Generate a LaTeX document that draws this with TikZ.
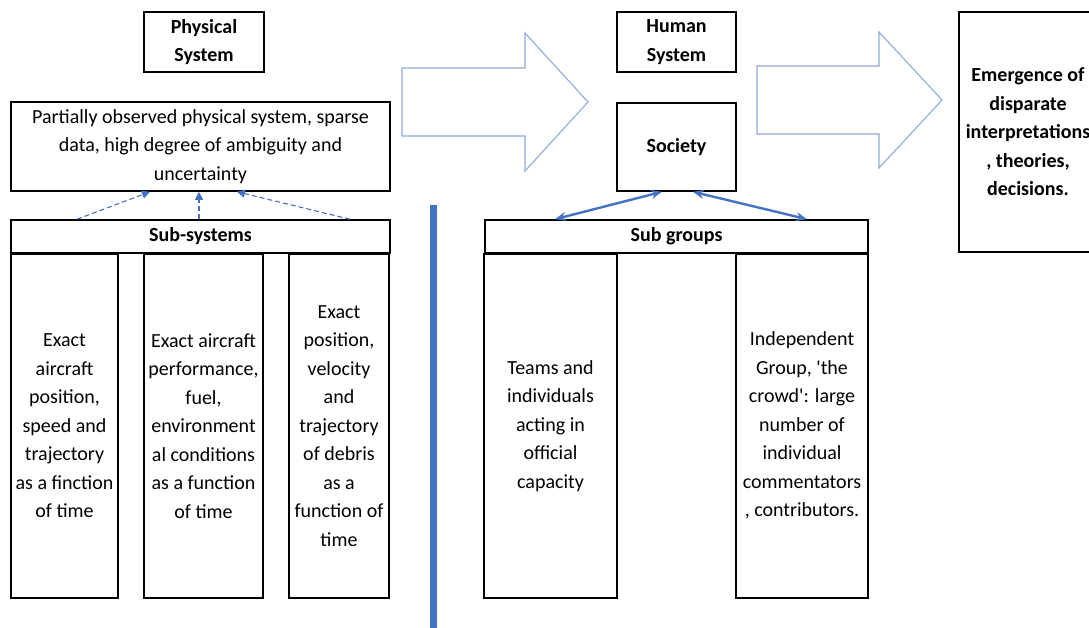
\documentclass[tikz,border=0pt]{standalone}
\usepackage{fontspec}
\setmainfont{Carlito}
\usetikzlibrary{arrows.meta}
\definecolor{linkblue}{HTML}{4472C4}
\definecolor{hollowblue}{HTML}{8FAADC}
\newcommand{\colheight}{344pt}
\newcommand{\barheight}{33pt}
\newcommand{\bodyfont}{\fontsize{20}{28.5}\selectfont}

\begin{document}
\begin{tikzpicture}[x=1pt, y=-1pt,
	box/.style={draw, line width=1.6pt, align=center, inner sep=2pt, font=\bodyfont},
	title/.style={box, font=\bodyfont\bfseries},
	dashlink/.style={linkblue, dash pattern=on 5pt off 3pt, line width=1.1pt, -{Triangle[length=8pt,width=8pt]}},
	duallink/.style={linkblue, line width=2.4pt, {Stealth[length=11pt,width=9pt]}-{Stealth[length=11pt,width=9pt]}},
	bigarrow/.style={hollowblue, line width=1.1pt, line join=miter}]
				\path[use as bounding box, clip] (0,0) rectangle (1089,627);
				% Physical side
				\node[title, minimum width=120pt, minimum height=60pt] (phys) at (204,42) {Physical\\System};
				\node[box, minimum width=379pt, minimum height=89pt] (observed) at (200.5,146.5) {Partially observed physical system, sparse\\data, high degree of ambiguity and\\uncertainty};
				\node[title, minimum width=379pt, minimum height=\barheight] (subsys) at (200.5,236.5) {Sub-systems};
				\node[box, anchor=north, minimum width=107pt, minimum height=\colheight] (sysA) at (64.5,253) {Exact\\aircraft\\position,\\speed and\\trajectory\\as a finction\\of time};
				\node[box, anchor=north, minimum width=119pt, minimum height=\colheight] (sysB) at (203.5,253) {Exact aircraft\\performance,\\fuel,\\environment\\al conditions\\as a function\\of time};
				\node[box, anchor=north, minimum width=100pt, minimum height=\colheight] (sysC) at (339,253) {Exact\\position,\\velocity\\and\\trajectory\\of debris\\as a\\function of\\time};
				% Sub-systems feed the observed system
				\draw[dashlink] ([xshift=-123.5pt]subsys.north) -- ([xshift=-50.5pt]observed.south);
				\draw[dashlink] ([xshift=-1.5pt]subsys.north) -- ([xshift=-1.5pt]observed.south);
				\draw[dashlink] ([xshift=149.5pt]subsys.north) -- ([xshift=36.5pt]observed.south);
				% Divider
				\draw[linkblue, line width=7pt] (433,205) -- (433,640);
				% Hollow arrows
				\draw[bigarrow] (402,68) -- (525,68) -- (525,33) -- (588,102) -- (525,171) -- (525,136) -- (402,136) -- cycle;
				\draw[bigarrow] (757,66) -- (879,66) -- (879,32) -- (942,100) -- (879,168) -- (879,134) -- (757,134) -- cycle;
				% Human side
				\node[title, minimum width=119pt, minimum height=60pt] (human) at (676.5,42) {Human\\System};
				\node[title, minimum width=119pt, minimum height=88pt] (society) at (676.5,147) {Society};
				\node[title, minimum width=383pt, minimum height=\barheight] (subgrp) at (676.5,236.5) {Sub groups};
				\node[box, anchor=north, minimum width=133pt, minimum height=\colheight] (grpA) at (550.5,253) {Teams and\\individuals\\acting in\\official\\capacity};
				\node[box, anchor=north, minimum width=132pt, minimum height=\colheight] (grpB) at (802,253) {Independent\\Group, \textquotesingle the\\crowd\textquotesingle: large\\number of\\individual\\commentators\\, contributors.};
				\draw[duallink] ([xshift=-121.5pt]subgrp.north) -- ([xshift=-14.5pt]society.south);
				\draw[duallink] ([xshift=16.5pt]society.south) -- ([xshift=130.5pt]subgrp.north);
				% Outcome
				\node[title, minimum width=138pt, minimum height=240pt] (emerge) at (1028,132) {Emergence of\\disparate\\interpretations\\, theories,\\decisions.};
\end{tikzpicture}
\end{document}
